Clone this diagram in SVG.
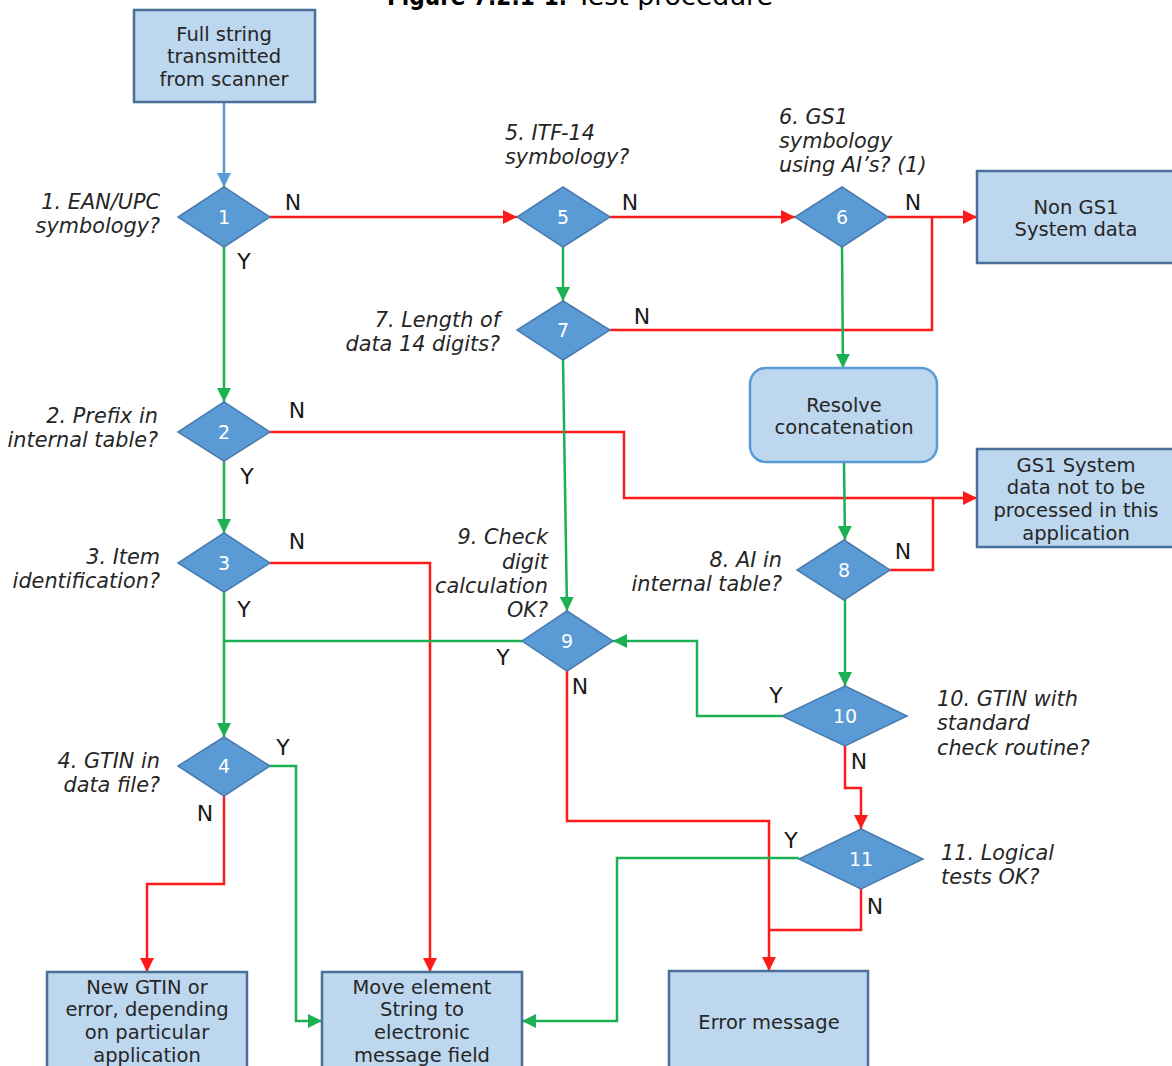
<svg xmlns="http://www.w3.org/2000/svg" width="1172" height="1066" viewBox="0 0 1172 1066">
<defs>
<style>
.box{fill:#BDD7EE;stroke:#4A7099;stroke-width:2.5}
.rbox{fill:#BDD7EE;stroke:#5B9BD5;stroke-width:2.5}
.dia{fill:#5B9BD5;stroke:#4A7BAF;stroke-width:1.5}
.bt{font-family:"DejaVu Sans",Verdana,sans-serif;font-size:19.5px;fill:#262626;text-anchor:middle}
.num{font-family:"DejaVu Sans",Verdana,sans-serif;font-size:19px;fill:#FFFFFF;text-anchor:middle}
.lab{font-family:"DejaVu Sans",Verdana,sans-serif;font-size:20.8px;font-style:italic;fill:#262626}
.r{text-anchor:end}
.yn{font-family:"DejaVu Sans",Verdana,sans-serif;font-size:22px;fill:#1a1a1a;text-anchor:middle}
.red{fill:none;stroke:#FF1A1A;stroke-width:2.5}
.grn{fill:none;stroke:#1DB052;stroke-width:2.5}
.blu{fill:none;stroke:#5B9BD5;stroke-width:2.5}
.title{font-family:"DejaVu Sans",Verdana,sans-serif;font-size:24px;fill:#000}
</style>
<marker id="ar" viewBox="0 0 14 14" refX="14" refY="7" markerWidth="14" markerHeight="14" markerUnits="userSpaceOnUse" orient="auto"><path d="M0,0 L14,7 L0,14 z" fill="#FF1A1A"/></marker>
<marker id="ag" viewBox="0 0 14 14" refX="14" refY="7" markerWidth="14" markerHeight="14" markerUnits="userSpaceOnUse" orient="auto"><path d="M0,0 L14,7 L0,14 z" fill="#1DB052"/></marker>
<marker id="ab" viewBox="0 0 14 14" refX="14" refY="7" markerWidth="14" markerHeight="14" markerUnits="userSpaceOnUse" orient="auto"><path d="M0,0 L14,7 L0,14 z" fill="#5B9BD5"/></marker>
</defs>
<rect width="1172" height="1066" fill="#FFFFFF"/>
<g id="title">
<text class="title" x="387" y="5"><tspan font-weight="bold" textLength="180" lengthAdjust="spacingAndGlyphs">Figure 7.2.1-1.</tspan><tspan x="576" textLength="197" lengthAdjust="spacingAndGlyphs">Test procedure</tspan></text>
</g>
<g id="connectors">
<path class="blu" d="M224,102 L224,187" marker-end="url(#ab)"/>
<path class="red" d="M270,217 L517,217" marker-end="url(#ar)"/>
<path class="red" d="M610,217 L795,217" marker-end="url(#ar)"/>
<path class="red" d="M888,217 L977,217" marker-end="url(#ar)"/>
<path class="red" d="M610,330 L932,330 L932,217"/>
<path class="grn" d="M563,247 L563,301" marker-end="url(#ag)"/>
<path class="grn" d="M842,247 L843,368" marker-end="url(#ag)"/>
<path class="grn" d="M224,247 L224,402" marker-end="url(#ag)"/>
<path class="red" d="M270,432 L624,432 L624,498 L977,498" marker-end="url(#ar)"/>
<path class="red" d="M890,570 L933,570 L933,498"/>
<path class="grn" d="M844,462 L845,540" marker-end="url(#ag)"/>
<path class="grn" d="M224,461 L224,533" marker-end="url(#ag)"/>
<path class="grn" d="M563,360 L567,611" marker-end="url(#ag)"/>
<path class="red" d="M270,563 L430,563 L430,972" marker-end="url(#ar)"/>
<path class="grn" d="M224,592 L224,737" marker-end="url(#ag)"/>
<path class="grn" d="M522,641 L224,641"/>
<path class="grn" d="M845,600 L845,686" marker-end="url(#ag)"/>
<path class="grn" d="M782,716 L697,716 L697,641 L613,641" marker-end="url(#ag)"/>
<path class="red" d="M845,746 L845,788 L861,788 L861,829" marker-end="url(#ar)"/>
<path class="red" d="M567,671 L567,821 L769,821 L769,971" marker-end="url(#ar)"/>
<path class="red" d="M861,889 L861,930 L769,930"/>
<path class="grn" d="M799,858 L617,858 L617,1021 L522,1021" marker-end="url(#ag)"/>
<path class="grn" d="M270,766 L296,766 L296,1021 L322,1021" marker-end="url(#ag)"/>
<path class="red" d="M224,796 L224,884 L147,884 L147,972" marker-end="url(#ar)"/>
</g>
<g id="yn">
<text class="yn" x="293" y="210">N</text>
<text class="yn" x="244" y="269">Y</text>
<text class="yn" x="630" y="210">N</text>
<text class="yn" x="913" y="210">N</text>
<text class="yn" x="642" y="324">N</text>
<text class="yn" x="297" y="418">N</text>
<text class="yn" x="247" y="484">Y</text>
<text class="yn" x="297" y="549">N</text>
<text class="yn" x="244" y="617">Y</text>
<text class="yn" x="283" y="755">Y</text>
<text class="yn" x="205" y="821">N</text>
<text class="yn" x="503" y="665">Y</text>
<text class="yn" x="580" y="694">N</text>
<text class="yn" x="903" y="559">N</text>
<text class="yn" x="776" y="703">Y</text>
<text class="yn" x="859" y="769">N</text>
<text class="yn" x="791" y="848">Y</text>
<text class="yn" x="875" y="914">N</text>
</g>
<g id="start">
<rect class="box" x="134" y="10" width="181" height="92"/>
<text class="bt" x="224" y="41">Full string</text>
<text class="bt" x="224" y="63">transmitted</text>
<text class="bt" x="224" y="86">from scanner</text>
</g>
<g id="d1">
<polygon class="dia" points="224,187 270,217 224,247 178,217"/>
<text class="num" x="224" y="224">1</text>
<text class="lab r" x="160" y="209">1. EAN/UPC</text>
<text class="lab r" x="160" y="233">symbology?</text>
</g>
<g id="d5">
<polygon class="dia" points="563,187 610,217 563,247 517,217"/>
<text class="num" x="563" y="224">5</text>
<text class="lab" x="505" y="140">5. ITF-14</text>
<text class="lab" x="505" y="164">symbology?</text>
</g>
<g id="d6">
<polygon class="dia" points="842,187 888,217 842,247 795,217"/>
<text class="num" x="842" y="224">6</text>
<text class="lab" x="779" y="124">6. GS1</text>
<text class="lab" x="779" y="148">symbology</text>
<text class="lab" x="779" y="172">using AI’s? (1)</text>
</g>
<g id="nongs1">
<rect class="box" x="977" y="171" width="197" height="92"/>
<text class="bt" x="1076" y="214">Non GS1</text>
<text class="bt" x="1076" y="236">System data</text>
</g>
<g id="d7">
<polygon class="dia" points="563,301 610,330 563,360 517,330"/>
<text class="num" x="563" y="337">7</text>
<text class="lab r" x="500" y="327">7. Length of</text>
<text class="lab r" x="500" y="351">data 14 digits?</text>
</g>
<g id="resolve">
<rect class="rbox" x="750" y="368" width="187" height="94" rx="16"/>
<text class="bt" x="844" y="412">Resolve</text>
<text class="bt" x="844" y="434">concatenation</text>
</g>
<g id="d2">
<polygon class="dia" points="224,402 270,432 224,461 178,432"/>
<text class="num" x="224" y="439">2</text>
<text class="lab r" x="158" y="423">2. Prefix in</text>
<text class="lab r" x="158" y="447">internal table?</text>
</g>
<g id="notprocessed">
<rect class="box" x="977" y="449" width="197" height="98"/>
<text class="bt" x="1076" y="472">GS1 System</text>
<text class="bt" x="1076" y="494">data not to be</text>
<text class="bt" x="1076" y="517">processed in this</text>
<text class="bt" x="1076" y="540">application</text>
</g>
<g id="d3">
<polygon class="dia" points="224,533 270,563 224,592 178,563"/>
<text class="num" x="224" y="570">3</text>
<text class="lab r" x="160" y="564">3. Item</text>
<text class="lab r" x="160" y="588">identification?</text>
</g>
<g id="d8">
<polygon class="dia" points="844,540 890,570 844,600 797,570"/>
<text class="num" x="844" y="577">8</text>
<text class="lab r" x="782" y="567">8. AI in</text>
<text class="lab r" x="782" y="591">internal table?</text>
</g>
<g id="d9">
<polygon class="dia" points="567,611 613,641 567,671 522,641"/>
<text class="num" x="567" y="648">9</text>
<text class="lab r" x="548" y="544">9. Check</text>
<text class="lab r" x="548" y="569">digit</text>
<text class="lab r" x="548" y="593">calculation</text>
<text class="lab r" x="548" y="617">OK?</text>
</g>
<g id="d10">
<polygon class="dia" points="845,686 907,716 845,746 782,716"/>
<text class="num" x="845" y="723">10</text>
<text class="lab" x="937" y="706">10. GTIN with</text>
<text class="lab" x="937" y="730">standard</text>
<text class="lab" x="937" y="755">check routine?</text>
</g>
<g id="d4">
<polygon class="dia" points="224,737 270,766 224,796 178,766"/>
<text class="num" x="224" y="773">4</text>
<text class="lab r" x="160" y="768">4. GTIN in</text>
<text class="lab r" x="160" y="792">data file?</text>
</g>
<g id="d11">
<polygon class="dia" points="861,829 923,859 861,889 799,859"/>
<text class="num" x="861" y="866">11</text>
<text class="lab" x="941" y="860">11. Logical</text>
<text class="lab" x="941" y="884">tests OK?</text>
</g>
<g id="newgtin">
<rect class="box" x="47" y="972" width="200" height="100"/>
<text class="bt" x="147" y="994">New GTIN or</text>
<text class="bt" x="147" y="1016">error, depending</text>
<text class="bt" x="147" y="1039">on particular</text>
<text class="bt" x="147" y="1062">application</text>
</g>
<g id="move">
<rect class="box" x="322" y="972" width="200" height="100"/>
<text class="bt" x="422" y="994">Move element</text>
<text class="bt" x="422" y="1016">String to</text>
<text class="bt" x="422" y="1039">electronic</text>
<text class="bt" x="422" y="1062">message field</text>
</g>
<g id="error">
<rect class="box" x="669" y="971" width="199" height="100"/>
<text class="bt" x="769" y="1029">Error message</text>
</g>
</svg>
